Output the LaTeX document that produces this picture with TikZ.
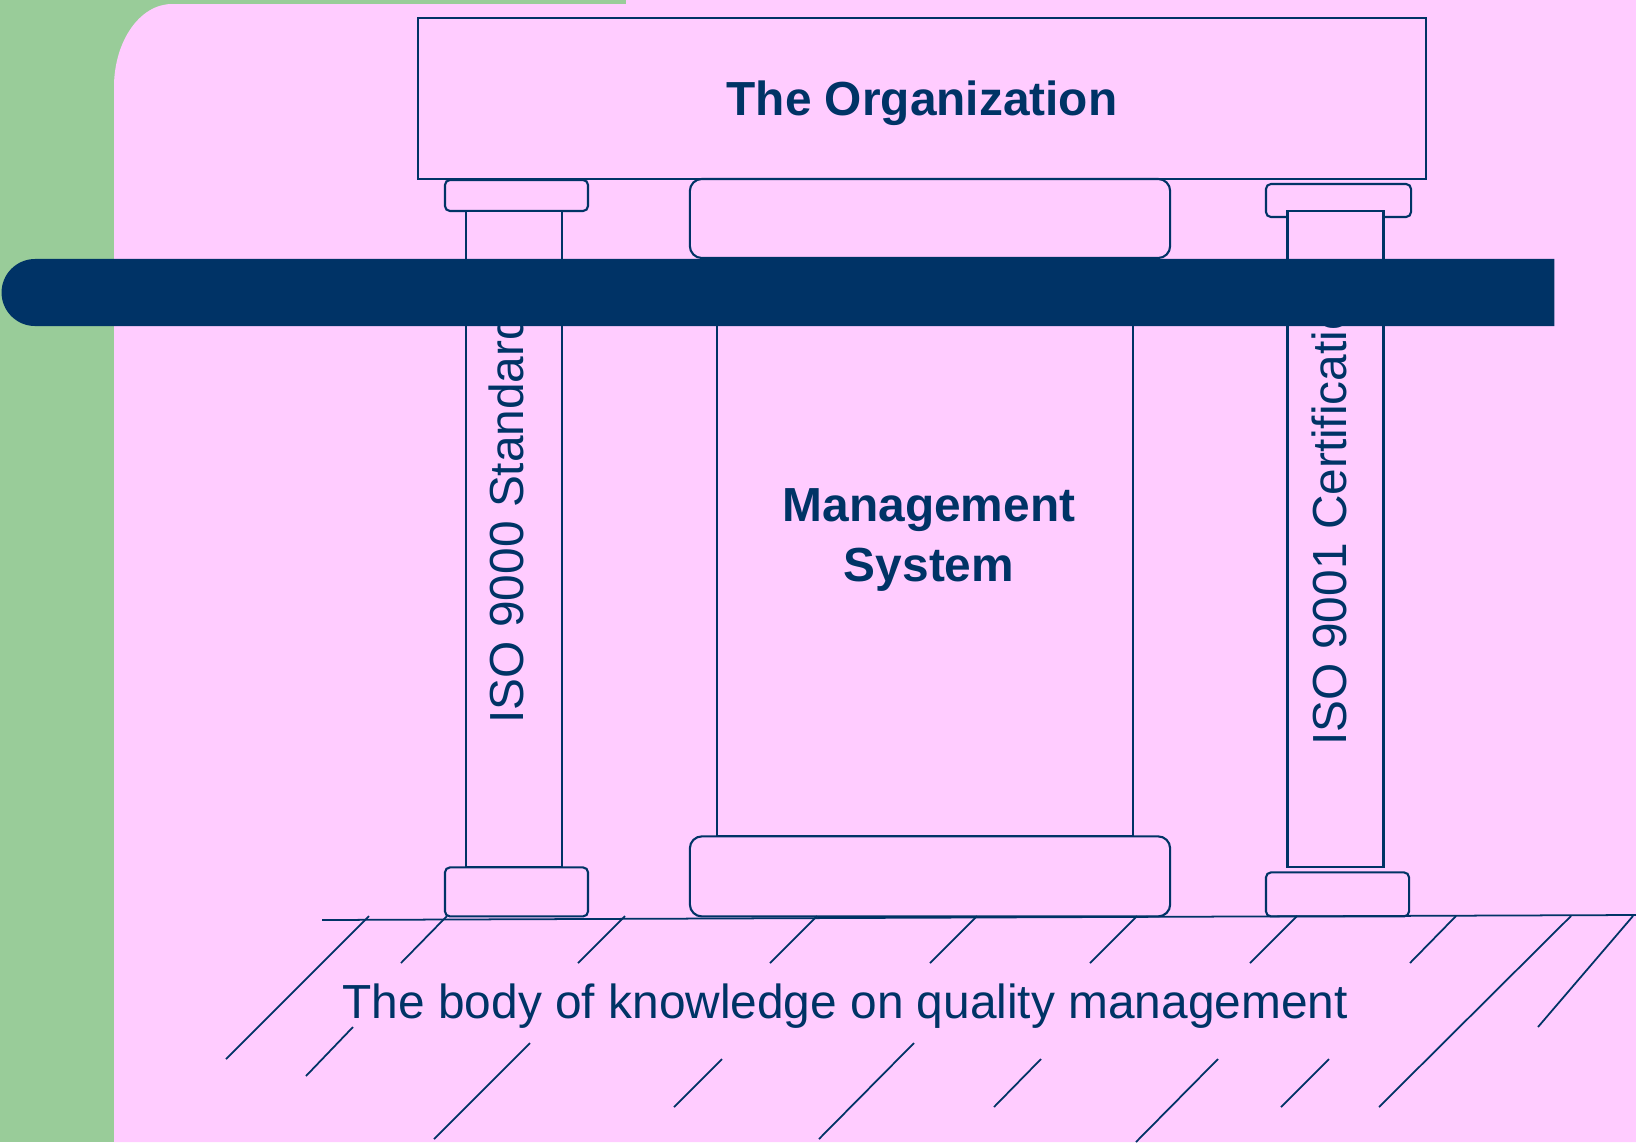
\documentclass[tikz,border=0pt]{standalone}
\usepackage{fontspec}
\setmainfont{Liberation Sans}
\usetikzlibrary{positioning, shapes.misc}
\definecolor{navy}{HTML}{003366}
\definecolor{pinkbg}{HTML}{FFCCFF}
\definecolor{greenbg}{HTML}{99CC99}
\newcommand{\slidefont}{\fontsize{13.6}{16.8}\selectfont}
\tikzset{
x=0.01cm, y=-0.01cm, % one unit is one pixel of the slide
node distance=0pt, % the parts of a pillar sit on each other
part/.style={draw=navy, line width=0.6pt, fill=pinkbg, inner sep=0pt, outer sep=0pt}, % every outlined part
block/.style={part, rounded corners=0.05cm}, % capitals and bases of the thin pillars
bigblock/.style={part, rounded corners=0.12cm}, % capital and base of the middle pillar
words/.style={text=navy, font=\slidefont, inner sep=0pt}, % every text
band/.style={fill=navy, rounded rectangle, rounded rectangle right arc=none, inner sep=0pt}, % the dark bar
hatch/.style={draw=navy, line width=0.5pt}, % the ground
}

\begin{document}
\begin{tikzpicture}
        \useasboundingbox (0,0) rectangle (1636,1142);
        \fill[greenbg] (0,0) rectangle (1636,1142);
        \fill[pinkbg] (114,1142) -- (114,87) .. controls (114,41) and (140,4) .. (172,4) -- (626,4) -- (626,0) -- (1636,0) -- (1636,1142) -- cycle;

        \node[part, words, font=\slidefont\bfseries, text depth=0pt, minimum width=10.08cm, minimum height=1.61cm] (org) at (922,98.5) {The Organization};

        % left pillar
        \node[block, minimum width=1.43cm, minimum height=0.31cm] (lcapital) at (516.5,195.5) {};
        \node[part, minimum width=0.96cm, minimum height=6.56cm, below=of lcapital, xshift=-0.025cm] (lshaft) {};
        \node[block, minimum width=1.43cm, minimum height=0.49cm, below=of lshaft, xshift=0.025cm] (lbase) {};

        % middle pillar
        \node[bigblock, minimum width=4.8cm, minimum height=0.79cm] (mcapital) at (930,218.5) {};
        \node[part, minimum width=4.16cm, minimum height=5.78cm, below=of mcapital, xshift=-0.05cm] (mshaft) {};
        \node[bigblock, minimum width=4.8cm, minimum height=0.8cm, below=of mshaft, xshift=0.05cm] (mbase) {};
        \node[words, font=\slidefont\bfseries, align=center] (mtext) at (929,540) {Management\\System};

        % right pillar
        \node[block, minimum width=1.45cm, minimum height=0.33cm] (rcapital) at (1338.5,200.5) {};
        \node[part, minimum width=0.96cm, minimum height=6.56cm, below=-0.06cm of rcapital, xshift=-0.03cm] (rshaft) {};
        \node[block, minimum width=1.43cm, minimum height=0.44cm, below=0.05cm of rshaft, xshift=0.02cm] (rbase) {};

        \node[band, minimum width=15.52cm, minimum height=0.67cm] (bar) at (778,292.5) {};
        \node[words, rotate=90, anchor=base west] (ltext) at (523,724) {ISO 9000 Standards};
        \node[words, rotate=90, anchor=base west] (rtext) at (1346,746) {ISO 9001 Certification};

        % the ground
        \draw[hatch] (322,920) -- (1636,915);
        \foreach \xa/\ya/\xb/\yb in {369/916/226/1059, 447/916/401/963, 625/916/578/963, 817/916/770/963,
                977/916/930/963, 1137/916/1090/963, 1297/916/1250/963, 1456/916/1410/963,
                1571/916/1379/1107, 1633/916/1538/1027, 353/1027/306/1076, 530/1043/434/1139,
                722/1059/674/1107, 914/1043/819/1139, 1041/1059/994/1107, 1218/1059/1136/1142,
                1329/1059/1281/1107}
            \draw[hatch] (\xa,\ya) -- (\xb,\yb);
        \node[words, anchor=base west] (ground) at (342,1018) {The body of knowledge on quality management};
\end{tikzpicture}
\end{document}
